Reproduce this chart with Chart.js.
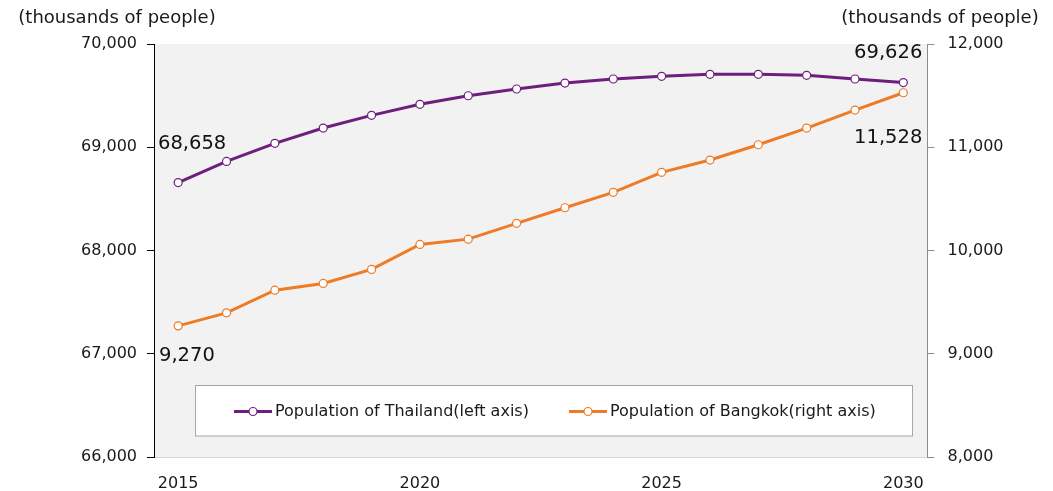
<!DOCTYPE html>
<html>
<head>
<meta charset="utf-8">
<script src="https://cdn.jsdelivr.net/npm/chart.js@4.4.1/dist/chart.umd.min.js"></script>
<style>
  html, body { margin: 0; padding: 0; background: #ffffff; }
  #wrap { width: 1053px; height: 491px; }
</style>
</head>
<body>
<div id="wrap"><canvas id="chart" width="1053" height="491"></canvas></div>
<script>
// Population, thousands of people
const years = ['2015','2016','2017','2018','2019','2020','2021','2022','2023','2024','2025','2026','2027','2028','2029','2030'];
const thailand = [68658, 68863, 69038, 69186, 69309, 69416, 69499, 69564, 69622, 69661, 69687, 69706, 69706, 69697, 69661, 69626];
const bangkok = [9270, 9396, 9616, 9681, 9817, 10059, 10110, 10263, 10414, 10563, 10757, 10876, 11024, 11186, 11360, 11528];
const shownYears = ['2015', '2020', '2025', '2030'];
const leftTicks = [66000, 67000, 68000, 69000, 70000];
const rightTicks = [8000, 9000, 10000, 11000, 12000];
const seriesNames = ['Population of Thailand(left axis)', 'Population of Bangkok(right axis)'];
const unitTitle = '(thousands of people)';

const PURPLE = '#6e1f7e';
const ORANGE = '#ee7b25';
const FONT = "'DejaVu Sans', Verdana, sans-serif";
const fmt = v => Number(v).toLocaleString('en-US');

// plot area fill
const plotBackground = {
  id: 'plotBackground',
  beforeDraw(chart) {
    const { ctx, chartArea: a } = chart;
    ctx.save();
    ctx.fillStyle = '#f2f2f2';
    ctx.fillRect(a.left, a.top, a.right - a.left, a.bottom - a.top);
    ctx.restore();
  }
};

// unit titles above both value axes
const unitTitles = {
  id: 'unitTitles',
  afterDraw(chart) {
    const { ctx } = chart;
    ctx.save();
    ctx.font = '18px ' + FONT;
    ctx.fillStyle = '#1a1a1a';
    ctx.textBaseline = 'middle';
    ctx.textAlign = 'center';
    ctx.fillText(unitTitle, 117, 18);
    ctx.fillText(unitTitle, 940, 18);
    ctx.restore();
  }
};

// first/last value labels on each series
const endLabels = {
  id: 'endLabels',
  afterDatasetsDraw(chart) {
    const { ctx } = chart;
    const yL = chart.scales.y, yR = chart.scales.y2, x = chart.scales.x;
    const last = years.length - 1;
    ctx.save();
    ctx.font = '19.5px ' + FONT;
    ctx.fillStyle = '#111111';
    ctx.textBaseline = 'middle';
    // Thailand
    ctx.textAlign = 'left';
    ctx.fillText(fmt(thailand[0]), chart.chartArea.left + 4, yL.getPixelForValue(thailand[0]) - 39);
    ctx.textAlign = 'right';
    ctx.fillText(fmt(thailand[last]), x.getPixelForValue(last) + 19, yL.getPixelForValue(thailand[last]) - 30);
    // Bangkok
    ctx.textAlign = 'left';
    ctx.fillText(fmt(bangkok[0]), chart.chartArea.left + 5, yR.getPixelForValue(bangkok[0]) + 30);
    ctx.textAlign = 'right';
    ctx.fillText(fmt(bangkok[last]), x.getPixelForValue(last) + 19, yR.getPixelForValue(bangkok[last]) + 45);
    ctx.restore();
  }
};

// boxed legend inside the plot area
const boxLegend = {
  id: 'boxLegend',
  afterDatasetsDraw(chart) {
    const { ctx } = chart;
    const bx = 195.5, by = 385.5, bw = 717, bh = 50.5;
    ctx.save();
    ctx.fillStyle = '#ffffff';
    ctx.fillRect(bx, by, bw, bh);
    ctx.strokeStyle = '#a6a6a6';
    ctx.lineWidth = 1;
    ctx.strokeRect(bx, by, bw, bh);
    const cy = 411.5;
    const starts = [234, 569];
    chart.data.datasets.forEach((ds, i) => {
      const x0 = starts[i];
      ctx.strokeStyle = ds.borderColor;
      ctx.lineWidth = 3;
      ctx.beginPath();
      ctx.moveTo(x0, cy);
      ctx.lineTo(x0 + 38, cy);
      ctx.stroke();
      ctx.beginPath();
      ctx.arc(x0 + 19, cy, 4, 0, Math.PI * 2);
      ctx.fillStyle = '#ffffff';
      ctx.fill();
      ctx.lineWidth = 1.2;
      ctx.stroke();
      ctx.font = '16px ' + FONT;
      ctx.fillStyle = '#1a1a1a';
      ctx.textAlign = 'left';
      ctx.textBaseline = 'middle';
      ctx.fillText(ds.label, x0 + 41, cy);
    });
    ctx.restore();
  }
};

new Chart(document.getElementById('chart'), {
  type: 'line',
  data: {
    labels: years,
    datasets: [
      {
        label: seriesNames[0],
        data: thailand,
        yAxisID: 'y',
        borderColor: PURPLE,
        backgroundColor: PURPLE,
        borderWidth: 3,
        pointRadius: 4,
        pointBorderWidth: 1.2,
        pointBackgroundColor: '#ffffff',
        pointBorderColor: PURPLE,
        tension: 0
      },
      {
        label: seriesNames[1],
        data: bangkok,
        yAxisID: 'y2',
        borderColor: ORANGE,
        backgroundColor: ORANGE,
        borderWidth: 3,
        pointRadius: 4,
        pointBorderWidth: 1.2,
        pointBackgroundColor: '#ffffff',
        pointBorderColor: ORANGE,
        tension: 0
      }
    ]
  },
  options: {
    responsive: false,
    animation: false,
    events: [],
    layout: { padding: { top: 44, left: 0, right: 0, bottom: 0 } },
    plugins: {
      legend: { display: false },
      tooltip: { enabled: false },
      title: { display: false }
    },
    scales: {
      x: {
        offset: true,
        grid: { display: false },
        border: { display: true, color: '#d9d9d9', width: 1 },
        ticks: {
          autoSkip: false,
          maxRotation: 0,
          padding: 9,
          color: '#1a1a1a',
          font: { family: FONT, size: 16 },
          callback(value) {
            const lab = years[value];
            return shownYears.includes(lab) ? lab : '';
          }
        },
        afterFit(scale) { scale.height = 34; }
      },
      y: {
        position: 'left',
        min: leftTicks[0],
        max: leftTicks[leftTicks.length - 1],
        afterBuildTicks(scale) { scale.ticks = leftTicks.map(v => ({ value: v })); },
        grid: { drawOnChartArea: false, drawTicks: true, tickLength: 7, color: '#000000' },
        border: { display: true, color: '#000000', width: 1 },
        ticks: {
          padding: 10,
          color: '#1a1a1a',
          font: { family: FONT, size: 16 },
          callback: v => fmt(v)
        },
        afterFit(scale) { scale.width = 154; }
      },
      y2: {
        position: 'right',
        min: rightTicks[0],
        max: rightTicks[rightTicks.length - 1],
        afterBuildTicks(scale) { scale.ticks = rightTicks.map(v => ({ value: v })); },
        grid: { drawOnChartArea: false, drawTicks: true, tickLength: 7, color: '#8c8c8c' },
        border: { display: true, color: '#8c8c8c', width: 1 },
        ticks: {
          padding: 13,
          color: '#1a1a1a',
          font: { family: FONT, size: 16 },
          callback: v => fmt(v)
        },
        afterFit(scale) { scale.width = 125.5; }
      }
    }
  },
  plugins: [plotBackground, unitTitles, endLabels, boxLegend]
});
</script>
</body>
</html>
